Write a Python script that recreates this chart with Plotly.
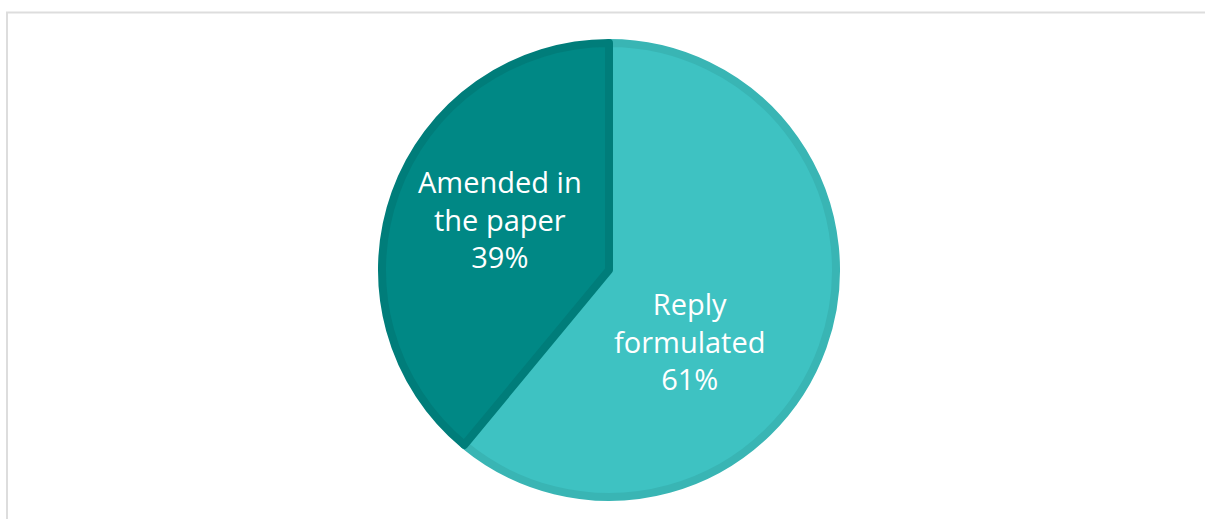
import plotly.graph_objects as go

labels = ["Reply formulated", "Amended in the paper"]
text_labels = ["Reply<br>formulated", "Amended in<br>the paper"]
values = [61, 39]
fill_colors = ["#3EC2C2", "#008885"]
edge_colors = ["#39B5B4", "#007D7A"]

W, H = 1205, 519
cx, cy, r = 609, 270, 227

# label anchor points (pixel centres of the text blocks)
label_pos = [(690, 341), (500, 219)]

fig = go.Figure(go.Pie(
    labels=labels,
    values=values,
    textinfo="none",
    marker=dict(colors=fill_colors, line=dict(color=edge_colors, width=8)),
    sort=False,
    direction="clockwise",
    rotation=0,
    showlegend=False,
    hoverinfo="label+percent",
    domain=dict(x=[(cx - r) / W, (cx + r) / W],
                y=[(H - cy - r) / H, (H - cy + r) / H]),
))

total = sum(values)
annotations = []
for txt, v, (px, py) in zip(text_labels, values, label_pos):
    annotations.append(dict(
        text=f"{txt}<br>{round(100 * v / total)}%",
        x=px / W, y=1 - py / H, xref="paper", yref="paper",
        xanchor="center", yanchor="middle", showarrow=False,
        font=dict(family="Open Sans", size=29, color="white"),
        align="center",
    ))

fig.update_layout(
    width=W, height=H,
    margin=dict(l=0, r=0, t=0, b=0),
    paper_bgcolor="white",
    plot_bgcolor="white",
    annotations=annotations,
    shapes=[
        dict(type="line", xref="paper", yref="paper",
             x0=6 / W, x1=1, y0=(H - 12.5) / H, y1=(H - 12.5) / H,
             line=dict(color="#DDDDDD", width=2)),
        dict(type="line", xref="paper", yref="paper",
             x0=7 / W, x1=7 / W, y0=0, y1=(H - 12) / H,
             line=dict(color="#DDDDDD", width=2)),
    ],
)

fig.write_html("out.html")
